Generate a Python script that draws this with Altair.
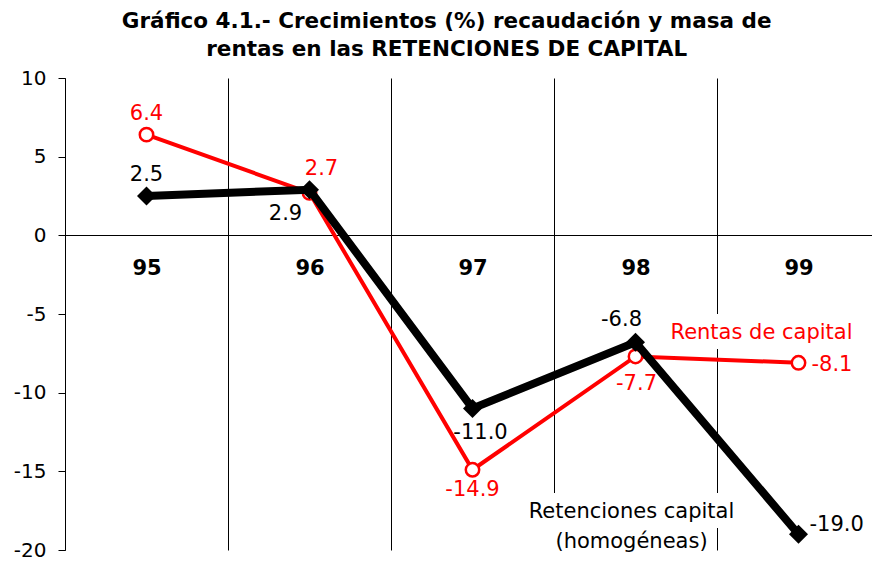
import altair as alt
import pandas as pd

# ---- data ----
years = ["95", "96", "97", "98", "99"]
retenciones = [2.5, 2.9, -11.0, -6.8, -19.0]
rentas = [6.4, 2.7, -14.9, -7.7, -8.1]
ret_labels = ["2.5", "2.9", "-11.0", "-6.8", "-19.0"]
ren_labels = ["6.4", "2.7", "-14.9", "-7.7", "-8.1"]
ret_place = ["above", "below_left", "below_right", "above_left", "right_up"]
ren_place = ["above", "above_right", "below", "below_far", "right"]
title_lines = ["Gráfico 4.1.- Crecimientos (%) recaudación y masa de",
               "rentas en las RETENCIONES DE CAPITAL"]
y_ticks = [-20, -15, -10, -5, 0, 5, 10]

FONT = "DejaVu Sans"
RED = "#ff0000"

# label placement styles: (dx, dy, align)
PLACE = {
    "above": (0, -21, "center"),
    "above_left": (-14, -22, "center"),
    "above_right": (12, -24, "center"),
    "below": (0, 20, "center"),
    "below_far": (1, 28, "center"),
    "below_right": (8, 25, "center"),
    "below_left": (-24, 24, "center"),
    "right": (13, 2, "left"),
    "right_up": (11, -9, "left"),
}

ret_df = pd.DataFrame({"year": years, "value": retenciones, "label": ret_labels, "place": ret_place})
ren_df = pd.DataFrame({"year": years, "value": rentas, "label": ren_labels, "place": ren_place})

PLOT_W, PLOT_H = 807, 472
x_scale = alt.Scale(type="band", domain=years, range=[0, 815], paddingInner=0, paddingOuter=0)
y_scale = alt.Scale(domain=[-20, 10], nice=False, zero=False)

x_axis = alt.Axis(orient="bottom", offset=-315, title=None, labelAngle=0,
                  labelFont=FONT, labelFontSize=21, labelFontWeight="bold",
                  labelColor="black", labelPadding=22, ticks=False,
                  domain=True, domainColor="black", domainWidth=1,
                  grid=True, gridColor="black", gridWidth=1, tickBand="extent")
y_axis = alt.Axis(values=y_ticks, title=None, grid=False, labelFont=FONT,
                  labelFontSize=20, labelColor="black", labelPadding=12,
                  labelExpr="replace(datum.label, '\u2212', '-')",
                  tickSize=7, tickColor="black", domainColor="black")

X = alt.X("year:N", scale=x_scale, axis=x_axis, sort=years)
Xn = alt.X("year:N", scale=x_scale, sort=years)
Y = alt.Y("value:Q", scale=y_scale, axis=y_axis)
Yn = alt.Y("value:Q", scale=y_scale)

base_ren = alt.Chart(ren_df)
base_ret = alt.Chart(ret_df)

# series annotations anchored to the last point of each series
ann_specs = [
    (base_ren, RED, -37, -30, "Rentas de capital"),
    (base_ret, "black", -167, -22, ["Retenciones capital", "(homogéneas)"]),
]
halo_layers, ann_layers = [], []
for base, color, dx, dy, txt in ann_specs:
    b = base.transform_filter(alt.datum.year == "99")
    common = dict(font=FONT, fontSize=21, dx=dx, dy=dy, align="center",
                  baseline="middle", lineHeight=30)
    halo_layers.append(b.mark_text(color="white", stroke="white", strokeWidth=20, **common)
                       .encode(x=X, y=Y, text=alt.value(txt)))
    ann_layers.append(b.mark_text(color=color, **common)
                      .encode(x=Xn, y=Yn, text=alt.value(txt)))

ren_line = base_ren.mark_line(color=RED, strokeWidth=4).encode(x=Xn, y=Yn)
ren_pts = base_ren.mark_point(shape="circle", size=180, filled=True, fill="white",
                              stroke=RED, strokeWidth=2.5, opacity=1).encode(x=Xn, y=Yn)
ret_line = base_ret.mark_line(color="black", strokeWidth=8).encode(x=Xn, y=Yn)
ret_pts = base_ret.mark_point(shape="diamond", size=360, filled=True, color="black",
                              opacity=1).encode(x=Xn, y=Yn)

layers = halo_layers + [ren_line, ren_pts, ret_line, ret_pts]

for base, color in ((base_ren, RED), (base_ret, "black")):
    for key, (dx, dy, align) in PLACE.items():
        layers.append(
            base.transform_filter(alt.datum.place == key)
            .mark_text(font=FONT, fontSize=21, color=color, dx=dx, dy=dy,
                       align=align, baseline="middle")
            .encode(x=Xn, y=Yn, text="label:N")
        )

layers += ann_layers

chart = alt.layer(*layers).properties(
    width=PLOT_W, height=PLOT_H,
    title=alt.TitleParams(text=title_lines, font=FONT, fontSize=21.5, fontWeight="bold",
                          anchor="middle", frame="bounds", lineHeight=28,
                          baseline="bottom", offset=-14, color="black"),
    autosize=alt.AutoSizeParams(type="none"),
    padding={"left": 57, "top": 70, "right": 0, "bottom": 10},
    background="white",
).configure_view(stroke=None)

chart.save("out.html", embed_options={"renderer": "svg", "actions": False})
